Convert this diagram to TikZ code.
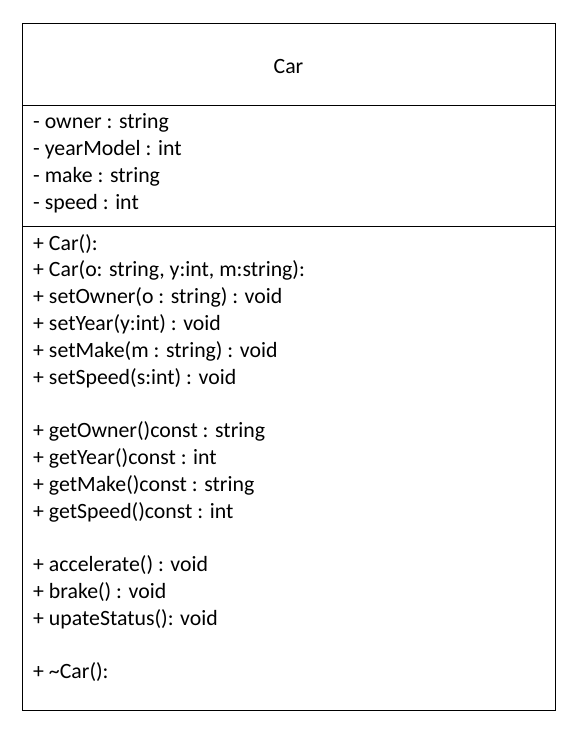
\documentclass[tikz,border=0pt]{standalone}
\usepackage{fontspec}
\setmainfont{Carlito}
\tikzset{member/.style={anchor=base west, inner sep=0pt, font=\fontsize{21.8}{26}\selectfont}}
\begin{document}
\begin{tikzpicture}[x=1pt,y=-1pt]
    \useasboundingbox (0,0) rectangle (573,738);
    \draw [line width=1pt] (22,24) rectangle (555,710);
    \draw [line width=1pt] (22,106) -- (555,106);
    \draw [line width=1pt] (22,226) -- (555,226);
    \node[member, anchor=base] (title) at (288.5,74) {Car};
    \foreach \txt [count=\i] in {{- owner : string},{- yearModel : int},{- make : string},{- speed : int}}
        {\node[member] (a\i) at (33,129+26.8*\i-26.8) {\txt};}
    \foreach \txt [count=\i] in {{+ Car():},{+ Car(o: string, y:int, m:string):},{+ setOwner(o : string) : void},
        {+ setYear(y:int) : void},{+ setMake(m : string) : void},{+ setSpeed(s:int) : void},{},
        {+ getOwner()const : string},{+ getYear()const : int},{+ getMake()const : string},{+ getSpeed()const : int},{},
        {+ accelerate() : void},{+ brake() : void},{+ upateStatus(): void},{},{+ \textasciitilde Car():}}
        {\node[member] (m\i) at (33,250+26.8*\i-26.8) {\txt};}
  \end{tikzpicture}
\end{document}
